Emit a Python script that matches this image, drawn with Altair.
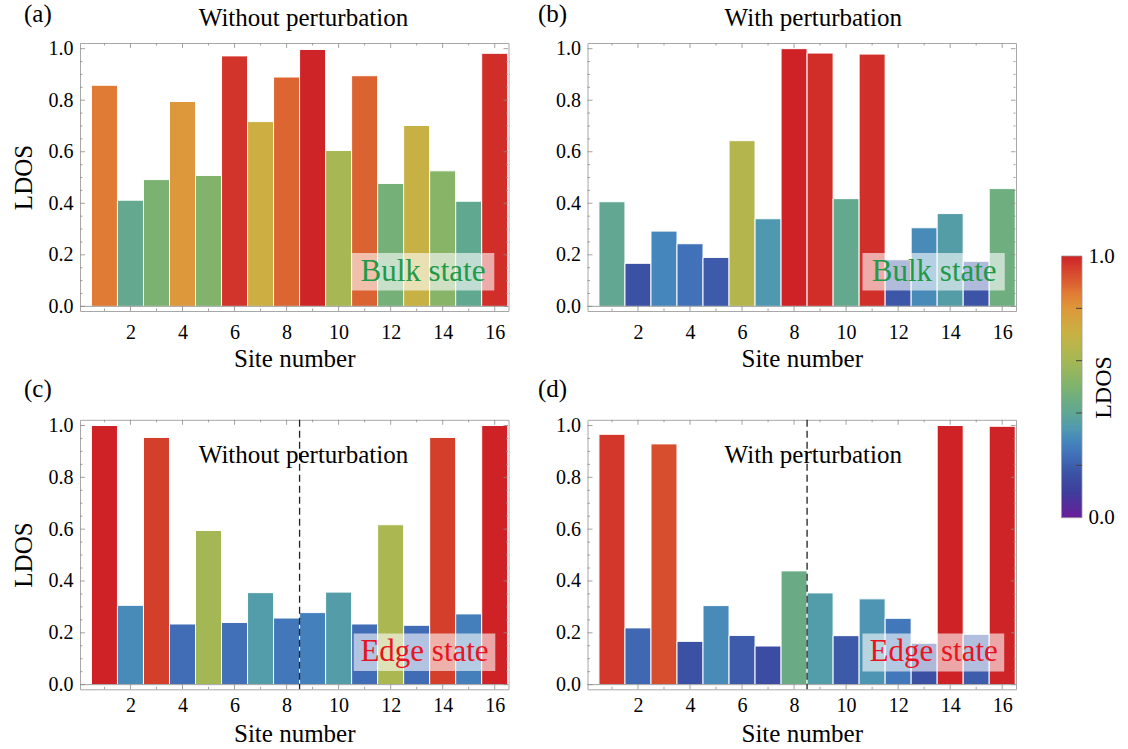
import altair as alt
import pandas as pd

# ---------------- data ----------------
sites = list(range(1, 17))
ldos_a = [0.858, 0.412, 0.492, 0.795, 0.508, 0.972, 0.717, 0.890,
          0.997, 0.605, 0.895, 0.477, 0.702, 0.526, 0.408, 0.982]
ldos_b = [0.406, 0.167, 0.292, 0.243, 0.190, 0.643, 0.340, 1.000,
          0.983, 0.418, 0.979, 0.181, 0.305, 0.360, 0.175, 0.457]
ldos_c = [1.000, 0.306, 0.954, 0.234, 0.595, 0.240, 0.355, 0.257,
          0.278, 0.357, 0.234, 0.617, 0.229, 0.954, 0.273, 1.000]
ldos_d = [0.966, 0.219, 0.929, 0.167, 0.305, 0.190, 0.149, 0.439,
          0.354, 0.189, 0.331, 0.256, 0.160, 1.000, 0.194, 0.997]
divider = 8.5
x_ticks = [2, 4, 6, 8, 10, 12, 14, 16]
x_minor = [1, 3, 5, 7, 9, 11, 13, 15]
y_ticks = [0.0, 0.2, 0.4, 0.6, 0.8, 1.0]
y_minor = [0.05, 0.1, 0.15, 0.25, 0.3, 0.35, 0.45, 0.5, 0.55,
           0.65, 0.7, 0.75, 0.85, 0.9, 0.95]
cbar_ticks = [0.0, 1.0]
cbar_minor = [0.2, 0.4, 0.6, 0.8]

# colour map (LDOS value -> colour)
stop_values = [0.00, 0.10, 0.17, 0.24, 0.29, 0.34, 0.41, 0.46, 0.50,
               0.60, 0.65, 0.71, 0.80, 0.86, 0.89, 0.97, 1.00]
stop_colors = ["#6a1d99", "#3d3f9c", "#3b52a4", "#4170b8", "#4585bd",
               "#4f99b0", "#62a890", "#6fae7e", "#7eb36f", "#a5b754",
               "#b6b64c", "#cab043", "#de973a", "#e07a35", "#dc6531",
               "#d2352b", "#cf2226"]

# ---------------- style / layout ----------------
FONT = "Liberation Serif"
PW = 428.5
PH_TOP = 268
PH_BOT = 269.5
XDOM = [0.06, 16.53]
YDOM = [-0.018, 1.022]
FRAME = "#a8a8a8"
TICK = "#8c8c8c"
GREEN = "#1f9a48"
RED = "#e8141e"

color_scale = alt.Scale(domain=stop_values, range=stop_colors, interpolate="rgb")
xs = alt.Scale(domain=XDOM, nice=False, zero=False)
ys = alt.Scale(domain=YDOM, nice=False, zero=False)


def one_text(txt, x, y, size, color="black", align="center"):
    return alt.Chart(pd.DataFrame({"t": [txt]})).mark_text(
        font=FONT, fontSize=size, color=color, align=align, baseline="alphabetic"
    ).encode(x=alt.value(x), y=alt.value(y), text="t:N")


def one_box(x0, x1, y0, y1):
    return alt.Chart(pd.DataFrame({"k": [0]})).mark_rect(
        fill="white", opacity=0.6
    ).encode(x=alt.value(x0), x2=alt.value(x1), y=alt.value(y0), y2=alt.value(y1))


def xtick_layer(vals, y0, y1):
    return alt.Chart(pd.DataFrame({"v": vals})).mark_rule(
        color=TICK, strokeWidth=0.8
    ).encode(x=alt.X("v:Q", scale=xs, title="Site number"),
             y=alt.value(y0), y2=alt.value(y1))


def ytick_layer(vals, x0, x1, ytitle):
    return alt.Chart(pd.DataFrame({"v": vals})).mark_rule(
        color=TICK, strokeWidth=0.8
    ).encode(y=alt.Y("v:Q", scale=ys, title=ytitle),
             x=alt.value(x0), x2=alt.value(x1))


def panel(vals, height, left, label_pad, title_pad, letter, letter_x, letter_y,
          title, title_x, title_y, state, state_color, box, state_x, state_y,
          with_divider):
    df = pd.DataFrame({"site": sites, "ldos": vals})
    ytitle = "LDOS" if left else None
    common = dict(ticks=False, domain=False, grid=False, labelOverlap=False,
                  labelFont=FONT, labelFontSize=20, labelColor="black",
                  titleFont=FONT, titleFontSize=25, titleFontWeight="normal",
                  titleColor="black")
    xaxis = alt.Axis(values=x_ticks, format="d", labelPadding=label_pad,
                     titlePadding=title_pad, labelFlush=False, **common)
    yaxis = alt.Axis(values=y_ticks, format=".1f", labelPadding=7, titlePadding=11.75,
                     **common)
    zero_line = alt.Chart(pd.DataFrame({"v": [y_ticks[0]]})).mark_rule(
        color=TICK, strokeWidth=0.8
    ).encode(y=alt.Y("v:Q", scale=ys, title=ytitle), x=alt.value(0), x2=alt.value(PW))
    bars = alt.Chart(df).transform_calculate(
        lo="datum.site - 0.5", hi="datum.site + 0.5"
    ).mark_rect(stroke="white", strokeWidth=1).encode(
        x=alt.X("lo:Q", scale=xs, axis=xaxis, title="Site number"),
        x2="hi:Q",
        y=alt.Y("ldos:Q", scale=ys, axis=yaxis, title=ytitle),
        y2=alt.datum(0),
        color=alt.Color("ldos:Q", scale=color_scale, legend=None),
    )
    layers = [
        bars, zero_line,
        xtick_layer(x_ticks, height, height - 5), xtick_layer(x_minor, height, height - 2.5),
        xtick_layer(x_ticks, 0, 5), xtick_layer(x_minor, 0, 2.5),
        ytick_layer(y_ticks, 0, 5, ytitle), ytick_layer(y_minor, 0, 2.5, ytitle),
        ytick_layer(y_ticks, PW - 0.5, PW - 5, ytitle),
        ytick_layer(y_minor, PW - 0.5, PW - 2.5, ytitle),
        one_box(*box),
        one_text(state, state_x, state_y, 31, color=state_color),
    ]
    if with_divider:
        rule = alt.Chart(pd.DataFrame({"d": [divider]})).mark_rule(
            color="#222222", strokeDash=[7, 4], strokeWidth=1.3
        ).encode(x=alt.X("d:Q", scale=xs, title="Site number"))
        layers.append(rule)
    layers.append(one_text(title, title_x, title_y, 25))
    layers.append(one_text(letter, letter_x, letter_y, 25, align="left"))
    return alt.layer(*layers).properties(
        width=PW, height=height, view=alt.ViewBackground(stroke=FRAME, strokeWidth=1)
    )


pa = panel(ldos_a, PH_TOP, True, 11.5, 4, "(a)", -56, -21.2,
           "Without perturbation", 223.5, -16.7,
           "Bulk state", GREEN, (271, 414.3, 210, 247.6), 343, 237.6, False)
pb = panel(ldos_b, PH_TOP, False, 11.5, 4, "(b)", -49.5, -21.2,
           "With perturbation", 225.8, -16.7,
           "Bulk state", GREEN, (275, 417.3, 210, 247.6), 346.7, 237.6, False)
pc = panel(ldos_c, PH_BOT, True, 6, 6, "(c)", -56, -22.5,
           "Without perturbation", 223.5, 42.7,
           "Edge state", RED, (273.7, 415.3, 213.7, 251.3), 344.5, 241.3, True)
pd_ = panel(ldos_d, PH_BOT, False, 6, 6, "(d)", -49.5, -22.5,
            "With perturbation", 225.8, 42.7,
            "Edge state", RED, (275, 416.7, 213.7, 251.7), 346.2, 241.3, True)

# ---------------- colour bar ----------------
CBW = 20.5
CBH = 540
CB_DOM = [-0.2495, 1.8139]
cbs = alt.Scale(domain=CB_DOM, nice=False, zero=False)
gradient = alt.LinearGradient(
    gradient="linear",
    stops=[alt.GradientStop(offset=v, color=c) for v, c in zip(stop_values, stop_colors)],
    x1=0, x2=0, y1=1, y2=0,
)
cb_df = pd.DataFrame({"lo": [cbar_ticks[0]], "hi": [cbar_ticks[1]]})
cb_rect = alt.Chart(cb_df).mark_rect(fill=gradient, stroke="#9a9a9a", strokeWidth=0.8).encode(
    x=alt.value(0), x2=alt.value(CBW),
    y=alt.Y("hi:Q", scale=cbs, title="LDOS",
            axis=alt.Axis(orient="right", values=cbar_ticks, format=".1f", ticks=False,
                          domain=False, grid=False, labelPadding=6, labelFontSize=21,
                          labelFont=FONT, labelColor="black",
                          titleAngle=270, titleFontSize=24,
                          titleFont=FONT, titleFontWeight="normal", titleColor="black",
                          titleX=21, titleY=344, titleAlign="center",
                          titleBaseline="middle")),
    y2="lo:Q",
)
cb_ticks = alt.Chart(pd.DataFrame({"v": cbar_minor})).mark_rule(
    color="#444444", strokeWidth=1
).encode(y=alt.Y("v:Q", scale=cbs, title="LDOS"), x=alt.value(CBW - 6), x2=alt.value(CBW))
cb = alt.layer(cb_rect, cb_ticks).properties(
    width=CBW, height=CBH, view=alt.ViewBackground(stroke="transparent")
)

left_col = alt.vconcat(pa, pc, spacing=4.8)
right_col = alt.vconcat(pb, pd_, spacing=4.8)
panels = alt.hconcat(left_col, right_col, spacing=27.5)

chart = alt.hconcat(panels, cb, spacing=43.5).resolve_scale(
    x="independent", y="independent"
).properties(
    padding={"left": 10, "top": 1, "right": 0, "bottom": 0},
    background="white",
).configure(
    font=FONT,
).configure_axis(
    labelFont=FONT, labelFontSize=20, labelColor="black",
    titleFont=FONT, titleFontSize=25, titleFontWeight="normal", titleColor="black",
).configure_view(stroke=FRAME)

chart.save("out.html", embed_options={"renderer": "svg", "actions": False})
